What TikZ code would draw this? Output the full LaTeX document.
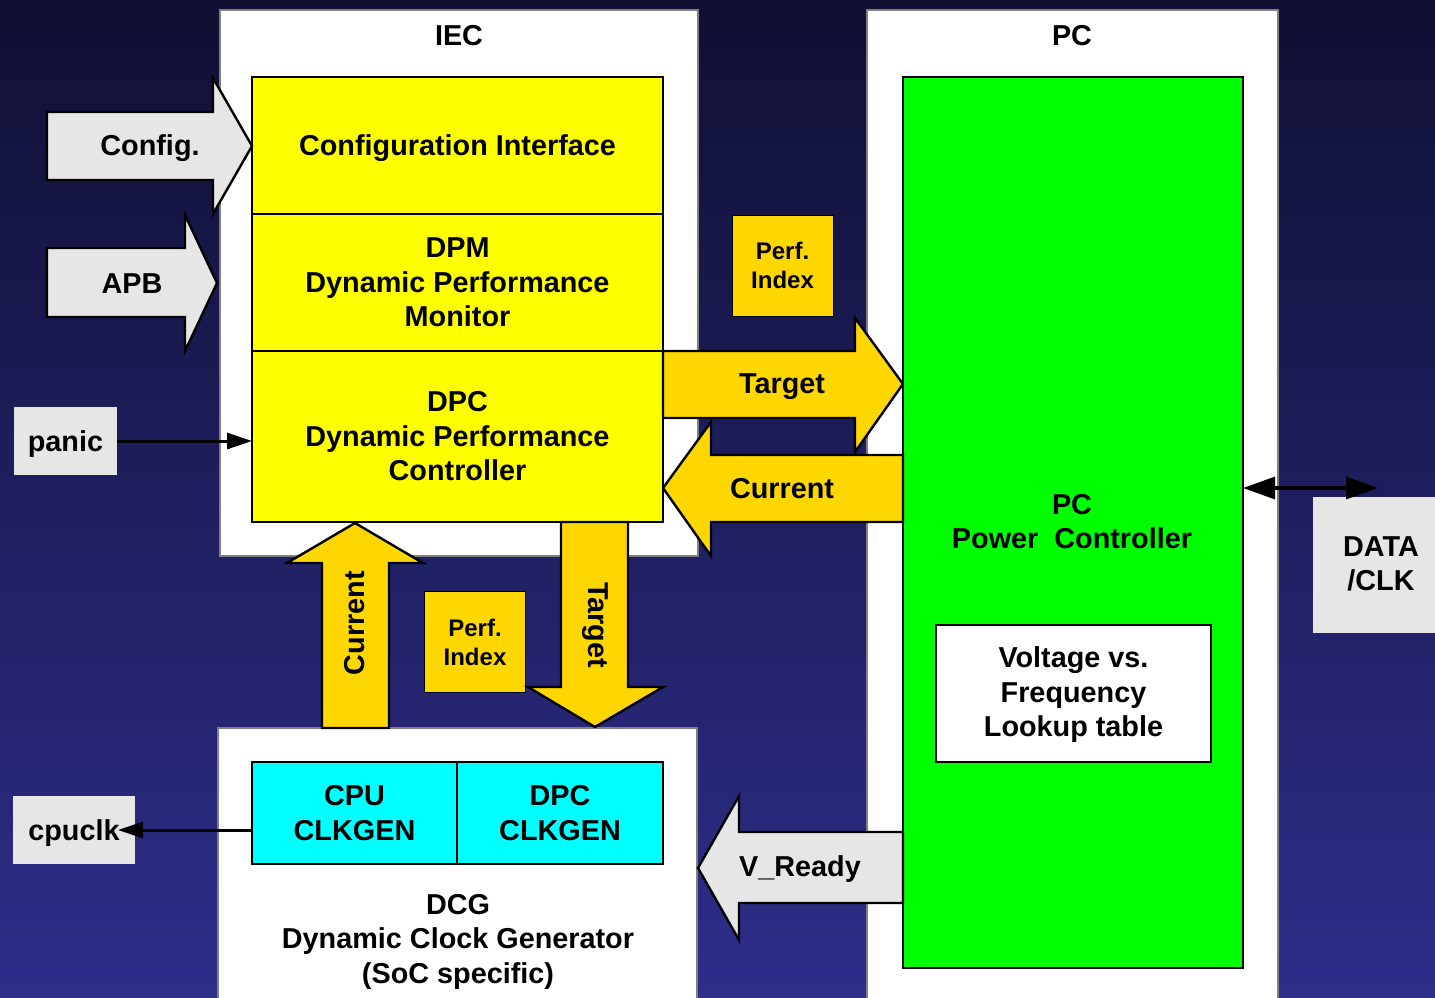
\documentclass[tikz,border=0pt]{standalone}
\usepackage{fontspec}
\setmainfont{Liberation Sans}
\usetikzlibrary{arrows.meta}
\definecolor{bgtop}{HTML}{0F0F33}
\definecolor{bgbot}{HTML}{2E2E8B}
\definecolor{gold}{HTML}{FFD700}
\definecolor{lgray}{HTML}{E6E6E6}
\definecolor{pgray}{HTML}{808080}
\definecolor{byellow}{HTML}{FFFF00}
\definecolor{bgreen}{HTML}{00FF00}
\definecolor{bcyan}{HTML}{00FFFF}
\newcommand{\lowr}[2]{\raisebox{-#1pt}[\height][\depth]{#2}}
\begin{document}
\begin{tikzpicture}[x=1pt,y=-1pt,
  big/.style={font=\fontsize{28.8}{34.5}\selectfont\bfseries,align=center},
  small/.style={font=\fontsize{24}{29}\selectfont\bfseries,align=center},
  panel/.style={fill=white,draw=pgray,line width=1.2pt},
  blk/.style={draw=black,line width=2.4pt,inner sep=0pt,outer sep=0pt,big},
  pbox/.style={fill=gold,draw=black,line width=1pt,inner sep=0pt,outer sep=0pt,small,minimum width=101pt,minimum height=101pt},
  gbox/.style={fill=lgray,inner sep=0pt,outer sep=0pt,big},
  barrow/.style={draw=black,line width=2.4pt,line join=miter},
  lbl/.style={big,inner sep=0pt},
  dn/.style={yshift=-2.5pt},
  thinarr/.style={draw=black,line width=3pt,-{Triangle[length=25pt,width=16pt]}},
  dblarr/.style={draw=black,line width=3.2pt,{Triangle[length=32pt,width=22pt]}-{Triangle[length=32pt,width=22pt]}}
]
\useasboundingbox (0,0) rectangle (1435,998);
\shade[top color=bgtop,bottom color=bgbot] (0,0) rectangle (1435,998);
% panels
\draw[panel] (220,10) rectangle (698,556);
\draw[panel] (867,10) rectangle (1278,1010);
\draw[panel] (218,728) rectangle (697,1010);
\node[lbl,yshift=-1pt] (iect) at (459,35) {IEC};
\node[lbl,yshift=-1pt] (pct) at (1072,35) {PC};
% IEC blocks
\node[blk,fill=byellow,minimum width=411pt,minimum height=137pt] (cfg) at (457.5,145.5) {\lowr{3}{Configuration Interface}};
\node[blk,fill=byellow,minimum width=411pt,minimum height=137pt] (dpm) at (457.5,282.5) {DPM\\Dynamic Performance\\Monitor};
\node[blk,fill=byellow,minimum width=411pt,minimum height=171pt] (dpc) at (457.5,436.5) {DPC\\Dynamic Performance\\Controller};
% PC
\node[blk,fill=bgreen,minimum width=340pt,minimum height=891pt] (pc) at (1073,522.5) {};
\node[lbl] (pctext) at (1072,521.5) {PC\\Power\ \ Controller};
\node[blk,fill=white,minimum width=275pt,minimum height=137pt] (lut) at (1073.5,693.5) {};
\node[lbl] (lutl) at (1073.5,695) {Voltage vs.\\Frequency\\Lookup table};
% perf index boxes
\node[pbox] (perf1) at (782.5,265.5) {Perf.\\Index};
\node[pbox] (perf2) at (475,642) {Perf.\\Index};
% DCG
\node[blk,fill=bcyan,minimum width=205pt,minimum height=102pt] (cpuclkgen) at (354.5,813) {CPU\\CLKGEN};
\node[blk,fill=bcyan,minimum width=206pt,minimum height=102pt] (dpcclkgen) at (560,813) {DPC\\CLKGEN};
\node[lbl] (dcg) at (458,941.5) {DCG\\Dynamic Clock Generator\\(SoC specific)};
% external boxes
\node[gbox,minimum width=103pt,minimum height=68pt] (panic) at (65.5,441) {\lowr{3}{panic}};
\node[gbox,minimum width=122pt,minimum height=68pt] (cpuclk) at (74,830) {\lowr{3}{cpuclk}};
\node[gbox,minimum width=122pt,minimum height=136pt] (dataclk) at (1374,565) {};
\node[lbl] (dataclkl) at (1381,564) {DATA\\/CLK};
% block arrows
\draw[barrow,fill=lgray] (47,112) -- (213,112) -- (213,78) -- (252,146) -- (213,214) -- (213,180) -- (47,180) -- cycle;
\node[lbl,dn] (cfgl) at (150,146) {Config.};
\draw[barrow,fill=lgray] (47,248) -- (185,248) -- (185,215) -- (217,283) -- (185,351) -- (185,317) -- (47,317) -- cycle;
\node[lbl,dn] (apbl) at (132,281) {APB};
\draw[barrow,fill=gold] (663,351) -- (855,351) -- (855,318) -- (903,384) -- (855,452) -- (855,418) -- (663,418) -- cycle;
\node[lbl,dn] (tgtl) at (782,384) {Target};
\draw[barrow,fill=gold] (903,455) -- (711,455) -- (711,422) -- (663,488) -- (711,556) -- (711,522) -- (903,522) -- cycle;
\node[lbl,dn] (curl) at (782,486) {Current};
\draw[barrow,fill=gold] (322,728) -- (322,563) -- (287,563) -- (355,523) -- (423,563) -- (389,563) -- (389,728) -- cycle;
\node[lbl,rotate=90] (curv) at (355,623) {Current};
\draw[barrow,fill=gold] (561,522) -- (561,687) -- (528,687) -- (595,727) -- (663,687) -- (628,687) -- (628,522) -- cycle;
\node[lbl,rotate=-90] (tgtv) at (595,625) {Target};
\draw[barrow,fill=lgray] (903,832) -- (739,832) -- (739,796) -- (698,868) -- (739,940) -- (739,903) -- (903,903) -- cycle;
\node[lbl,dn] (vrl) at (800,867) {V\_Ready};
% thin arrows
\draw[thinarr] (panic.east) -- (panic.east -| dpc.west);
\draw[thinarr] (cpuclkgen.west |- cpuclk.east) -- ([xshift=-17pt]cpuclk.east);
\coordinate (dcend) at (1378,488);
\draw[dblarr] (pc.east |- dcend) -- (dcend);
\end{tikzpicture}
\end{document}
